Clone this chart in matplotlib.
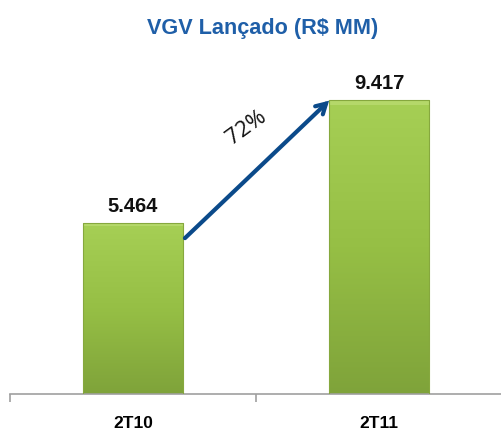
import matplotlib
matplotlib.use("Agg")
import matplotlib.pyplot as plt
import numpy as np
from matplotlib.colors import LinearSegmentedColormap
from matplotlib.patches import Rectangle

categories = ["2T10", "2T11"]
values = [5464, 9417]
value_labels = ["5.464", "9.417"]
growth_label = "72%"
title = "VGV Lançado (R$ MM)"

fig = plt.figure(figsize=(5.02, 4.30), dpi=100)
ax = fig.add_axes([0.02, 0.0837, 0.98, 0.871])
ax.set_xlim(-0.5, 1.5)
ax.set_ylim(0, 12000)

width = 0.41
cmap = LinearSegmentedColormap.from_list("g", ["#7fa33a", "#96bf45", "#a6cf55"])
grad = np.linspace(0, 1, 256).reshape(-1, 1)
for i, v in enumerate(values):
    x0 = i - width / 2
    bar = ax.bar(i, v, width=width, color="none", edgecolor="#86a83e", linewidth=0.8, zorder=3)[0]
    im = ax.imshow(grad, extent=[x0, x0 + width, 0, v], origin="lower", cmap=cmap,
                   aspect="auto", zorder=2)
    im.set_clip_path(bar)
    ax.add_patch(Rectangle((x0, v * 0.985), width, v * 0.015, color="#b5d86a", lw=0, zorder=2.5))
    ax.text(i, v + 230, value_labels[i], ha="center", va="bottom", fontsize=14.5,
            fontweight="bold", family="Liberation Sans", color="#111111")

ax.set_aspect("auto")
ax.set_xlim(-0.5, 1.5)
ax.set_ylim(0, 12000)

for s in ["top", "right", "left"]:
    ax.spines[s].set_visible(False)
ax.spines["bottom"].set_color("#a0a0a0")
ax.spines["bottom"].set_linewidth(1.2)
ax.set_yticks([])
ax.set_xticks([0, 1])
ax.set_xticklabels(categories, fontsize=12.5, fontweight="bold", family="Liberation Sans")
ax.tick_params(axis="x", which="major", length=0, pad=16)
ax.set_xticks([-0.5, 0.5], minor=True)
ax.tick_params(axis="x", which="minor", length=6, color="#a0a0a0", width=1.2)

# growth arrow
ax.annotate("", xy=(1 - width / 2 + 0.002, values[1] - 20),
            xytext=(width / 2 + 0.006, values[0] - 470),
            arrowprops=dict(arrowstyle="->,head_length=0.7,head_width=0.4", color="#0b4a8a",
                            lw=3, shrinkA=0, shrinkB=0, capstyle="round", joinstyle="miter"),
            zorder=5)
ax.text(0.46, 8520, growth_label, rotation=36, ha="center", va="center", fontsize=16,
        family="Open Sans", fontweight="normal", color="#111111")

fig.text(0.524, 0.933, title, ha="center", va="center", fontsize=15.6, fontweight="bold",
         family="Liberation Sans", color="#1f5fa8")

fig.savefig("out.png", dpi=100)
